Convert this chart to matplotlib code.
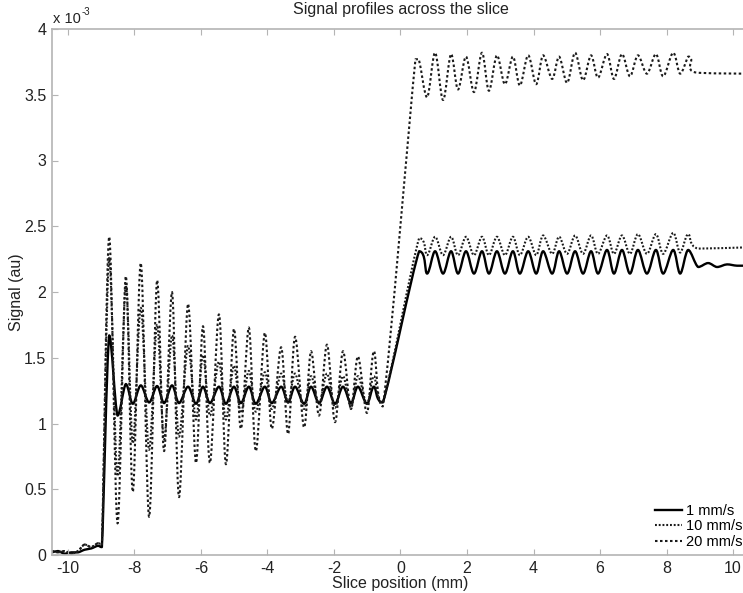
import matplotlib
matplotlib.use("Agg")
import matplotlib.pyplot as plt
import numpy as np
from matplotlib.lines import Line2D
from matplotlib.patches import PathPatch
from matplotlib.path import Path

plt.rcParams["font.family"] = ["Liberation Sans", "DejaVu Sans"]
plt.rcParams["axes.unicode_minus"] = False
FS = 11.5

# values in units of 1e-3 (shown as "x 10^-3" on the axis)
base_x = [-10.48, -10.3, -10.1, -9.9, -9.7, -9.5, -9.3, -9.1, -8.98]
base_solid = [0.02, 0.03, 0.01, 0.02, 0.02, 0.04, 0.05, 0.07, 0.06]
base_dotted = [0.03, 0.02, 0.03, 0.01, 0.03, 0.08, 0.06, 0.09, 0.08]

spike_x = [-8.76, -8.51]
spike_1 = [1.67, 1.06]
spike_10 = [2.26, 0.60]
spike_20 = [2.42, 0.24]

# oscillation crests / dips left of the slice edge
peaks_l = [-8.26, -7.81, -7.32, -6.87, -6.39, -5.94, -5.46, -5.01, -4.56,
           -4.08, -3.59, -3.17, -2.69, -2.21, -1.73, -1.28, -0.80]
dips_l = [-8.05, -7.56, -7.11, -6.66, -6.15, -5.73, -5.25, -4.80, -4.35,
          -3.87, -3.38, -2.90, -2.45, -1.97, -1.49, -1.01, -0.53]

peaks_l_1 = [1.30, 1.29, 1.285, 1.29, 1.28, 1.28, 1.28, 1.28, 1.28,
             1.28, 1.28, 1.28, 1.28, 1.28, 1.28, 1.28, 1.28]
dips_l_1 = [1.15, 1.16, 1.155, 1.155, 1.15, 1.155, 1.15, 1.155, 1.15,
            1.155, 1.16, 1.15, 1.155, 1.15, 1.155, 1.15, 1.16]
peaks_l_10 = [2.05, 1.88, 1.75, 1.67, 1.59, 1.52, 1.47, 1.44, 1.40,
              1.39, 1.38, 1.38, 1.36, 1.38, 1.36, 1.36, 1.36]
dips_l_10 = [0.85, 0.80, 0.88, 0.90, 1.03, 1.06, 1.03, 1.08, 1.09,
             1.11, 1.16, 1.11, 1.15, 1.12, 1.12, 1.15, 1.16]
peaks_l_20 = [2.12, 2.22, 2.09, 2.00, 1.91, 1.74, 1.83, 1.72, 1.73,
              1.69, 1.58, 1.66, 1.55, 1.60, 1.55, 1.51, 1.55]
dips_l_20 = [0.48, 0.29, 0.79, 0.44, 0.70, 0.70, 0.69, 0.96, 0.79,
             0.96, 0.92, 0.97, 1.06, 1.01, 1.11, 1.08, 1.13]

# oscillation crests / dips right of the slice edge
peaks_r = [0.56, 1.04, 1.52, 1.97, 2.45, 2.90, 3.38, 3.84, 4.29,
           4.77, 5.25, 5.73, 6.21, 6.66, 7.14, 7.68, 8.20, 8.65]
dips_r = [0.80, 1.28, 1.73, 2.21, 2.66, 3.14, 3.59, 4.08, 4.56,
          5.01, 5.49, 5.94, 6.42, 6.90, 7.41, 7.90, 8.41]

peaks_r_1 = [2.31, 2.31, 2.31, 2.31, 2.31, 2.31, 2.31, 2.31, 2.31,
             2.31, 2.31, 2.31, 2.32, 2.32, 2.32, 2.32, 2.32, 2.32]
dips_r_1 = [2.14, 2.14, 2.14, 2.14, 2.14, 2.14, 2.14, 2.14, 2.14,
            2.14, 2.14, 2.14, 2.14, 2.14, 2.14, 2.14, 2.14]
peaks_r_10 = [2.41, 2.42, 2.42, 2.42, 2.42, 2.42, 2.42, 2.42, 2.43,
              2.42, 2.43, 2.43, 2.43, 2.43, 2.44, 2.44, 2.45, 2.44]
dips_r_10 = [2.28, 2.28, 2.28, 2.28, 2.28, 2.28, 2.28, 2.28, 2.29,
             2.29, 2.29, 2.29, 2.29, 2.29, 2.29, 2.29, 2.30]
peaks_r_20 = [3.76, 3.82, 3.81, 3.79, 3.82, 3.80, 3.79, 3.80, 3.80,
              3.79, 3.82, 3.80, 3.81, 3.81, 3.80, 3.81, 3.82, 3.79]
dips_r_20 = [3.48, 3.46, 3.54, 3.52, 3.53, 3.58, 3.57, 3.58, 3.62,
             3.59, 3.61, 3.63, 3.62, 3.64, 3.66, 3.64, 3.66]

ramp_top_20 = [0.45, 3.77]

tail_x_1 = [8.95, 9.25, 9.52, 9.82, 10.12, 10.48]
tail_1 = [2.19, 2.22, 2.19, 2.21, 2.20, 2.20]
tail_x_10 = [8.95, 10.48]
tail_10 = [2.33, 2.34]
tail_x_20 = [8.74, 8.86, 10.48]
tail_20 = [3.77, 3.67, 3.66]

labels = ["1 mm/s", "10 mm/s", "20 mm/s"]


def interleave(ax_, ay_, bx_, by_):
    """Alternate points a0, b0, a1, b1, ... (a may be one longer than b)."""
    xs, ys = [], []
    for i in range(len(ax_)):
        xs.append(ax_[i])
        ys.append(ay_[i])
        if i < len(bx_):
            xs.append(bx_[i])
            ys.append(by_[i])
    return xs, ys


def build(base_y, spike_y, pl, dl, pr, dr, tx, ty, extra=None):
    lx, ly = interleave(peaks_l, pl, dips_l, dl)
    rx, ry = interleave(peaks_r, pr, dips_r, dr)
    xs = list(base_x) + list(spike_x) + lx
    ys = list(base_y) + list(spike_y) + ly
    if extra is not None:
        xs.append(extra[0])
        ys.append(extra[1])
    xs += rx + list(tx)
    ys += ry + list(ty)
    return np.array(xs), np.array(ys)


def smooth_path(xs, ys):
    # Catmull-Rom curve through the read points, drawn as cubic Bezier
    # segments; control points kept inside each segment's y-range (no overshoot)
    pts = np.column_stack([xs, ys])
    n = len(pts)
    verts = [pts[0]]
    codes = [Path.MOVETO]
    for i in range(n - 1):
        p0 = pts[max(i - 1, 0)]
        p1 = pts[i]
        p2 = pts[i + 1]
        p3 = pts[min(i + 2, n - 1)]
        c1 = p1 + (p2 - p0) / 6
        c2 = p2 - (p3 - p1) / 6
        lo, hi = min(p1[1], p2[1]), max(p1[1], p2[1])
        c1[1] = np.clip(c1[1], lo, hi)
        c2[1] = np.clip(c2[1], lo, hi)
        verts += [c1, c2, p2]
        codes += [Path.CURVE4] * 3
    return Path(verts, codes)


x1, y1 = build(base_solid, spike_1, peaks_l_1, dips_l_1, peaks_r_1, dips_r_1, tail_x_1, tail_1)
x10, y10 = build(base_dotted, spike_10, peaks_l_10, dips_l_10, peaks_r_10, dips_r_10, tail_x_10, tail_10)
x20, y20 = build(base_dotted, spike_20, peaks_l_20, dips_l_20, peaks_r_20, dips_r_20, tail_x_20, tail_20,
                 extra=ramp_top_20)

styles = [
    dict(color="black", lw=1.7, linestyle="-"),
    dict(color="#1a1a1a", lw=1.5, linestyle=(0, (0.9, 0.9))),
    dict(color="#1a1a1a", lw=1.5, linestyle=(0, (1.2, 1.2))),
]

fig = plt.figure(figsize=(7.43, 5.93), dpi=100)
ax = fig.add_axes([52 / 743, 38 / 593, 697 / 743, 526 / 593])

for (xs, ys), st in zip([(x1, y1), (x10, y10), (x20, y20)], styles):
    patch = PathPatch(smooth_path(xs, ys), fill=False, edgecolor=st["color"],
                      lw=st["lw"], linestyle=st["linestyle"], joinstyle="round")
    ax.add_patch(patch)

ax.set_xlim(-10.48, 10.48)
ax.set_ylim(0, 4)
ax.set_xticks(np.arange(-10, 11, 2))
ax.set_yticks(np.arange(0, 4.01, 0.5))
ax.set_yticklabels(["0", "0.5", "1", "1.5", "2", "2.5", "3", "3.5", "4"])

grey = "#b4b4b4"
text_col = "#222222"
for side in ["left", "top", "bottom", "right"]:
    ax.spines[side].set_color(grey)
    ax.spines[side].set_linewidth(1.2)
ax.tick_params(direction="in", top=True, right=True, color=grey, length=4,
               labelcolor=text_col, labelsize=FS)
ax.tick_params(axis="x", pad=4)
ax.tick_params(axis="y", pad=4)

ax.set_title("Signal profiles across the slice", color=text_col, fontsize=FS, pad=11)
ax.set_xlabel("Slice position (mm)", color=text_col, fontsize=FS, labelpad=0)
ax.set_ylabel("Signal (au)", color=text_col, fontsize=FS, labelpad=0)
ax.text(0.002, 1.006, "x 10", transform=ax.transAxes,
        ha="left", va="bottom", color=text_col, fontsize=10.5)
ax.annotate("-3", xy=(0, 1), xycoords="axes fraction", xytext=(30, 12),
            textcoords="offset pixels", ha="left", va="bottom",
            color=text_col, fontsize=7)

handles = [Line2D([], [], **st) for st in styles]
ax.legend(handles, labels, loc="lower left", bbox_to_anchor=(648 / 743, 37 / 593),
          bbox_transform=fig.transFigure, frameon=False, borderpad=0,
          handlelength=1.85, handletextpad=0.27, labelspacing=0.1, fontsize=10.5)

fig.savefig("out.png", dpi=100)
